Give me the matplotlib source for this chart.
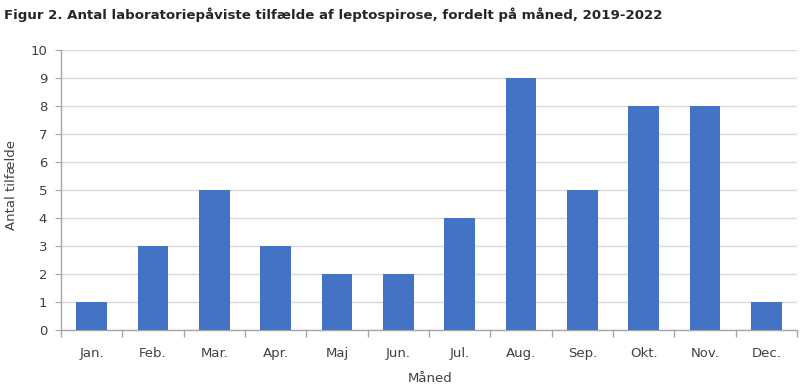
import matplotlib
matplotlib.use("Agg")
import matplotlib.pyplot as plt
import numpy as np

months = ["Jan.", "Feb.", "Mar.", "Apr.", "Maj", "Jun.", "Jul.", "Aug.",
          "Sep.", "Okt.", "Nov.", "Dec."]
cases = [1, 3, 5, 3, 2, 2, 4, 9, 5, 8, 8, 1]

BAR = "#4472C4"
GRID = "#D9D9D9"
AXIS = "#A6A6A6"
TXT = "#404040"

plt.rcParams["font.family"] = ["DejaVu Sans"]

fig = plt.figure(figsize=(8, 3.89), dpi=100)
ax = fig.add_axes([61 / 800, 1 - 330 / 389, 736 / 800, 280 / 389])

x = np.arange(len(months))
ax.bar(x, cases, width=0.5, color=BAR, zorder=3)

ax.set_xlim(-0.5, len(months) - 0.5)
ax.set_ylim(0, 10)
ax.set_yticks(range(0, 11))
ax.set_xticks(x)
ax.set_xticklabels(months)
ax.set_xticks(np.arange(-0.5, len(months)), minor=True)
ax.tick_params(axis="x", which="major", length=0, pad=12, labelsize=9.5,
               labelcolor=TXT)
ax.tick_params(axis="x", which="minor", length=5, color=AXIS, width=1)
ax.tick_params(axis="y", length=4, color=AXIS, labelsize=9.5, labelcolor=TXT,
               pad=6)

ax.grid(axis="y", color=GRID, lw=1, zorder=0)
for s in ("top", "right"):
    ax.spines[s].set_visible(False)
for s in ("left", "bottom"):
    ax.spines[s].set_color(AXIS)
    ax.spines[s].set_linewidth(1)

fig.text(12 / 800, 1 - 185 / 389, "Antal tilfælde", rotation=90,
         ha="center", va="center", fontsize=9.5, color=TXT)
fig.text(430 / 800, 1 - 379 / 389, "Måned", ha="center", va="center",
         fontsize=9.5, color=TXT)
fig.text(4 / 800, 1 - 15 / 389,
         "Figur 2. Antal laboratoriepåviste tilfælde af leptospirose, fordelt på måned, 2019-2022",
         ha="left", va="center", fontsize=9.6, fontweight="bold", color="#262626")

fig.savefig("out.png", dpi=100)
